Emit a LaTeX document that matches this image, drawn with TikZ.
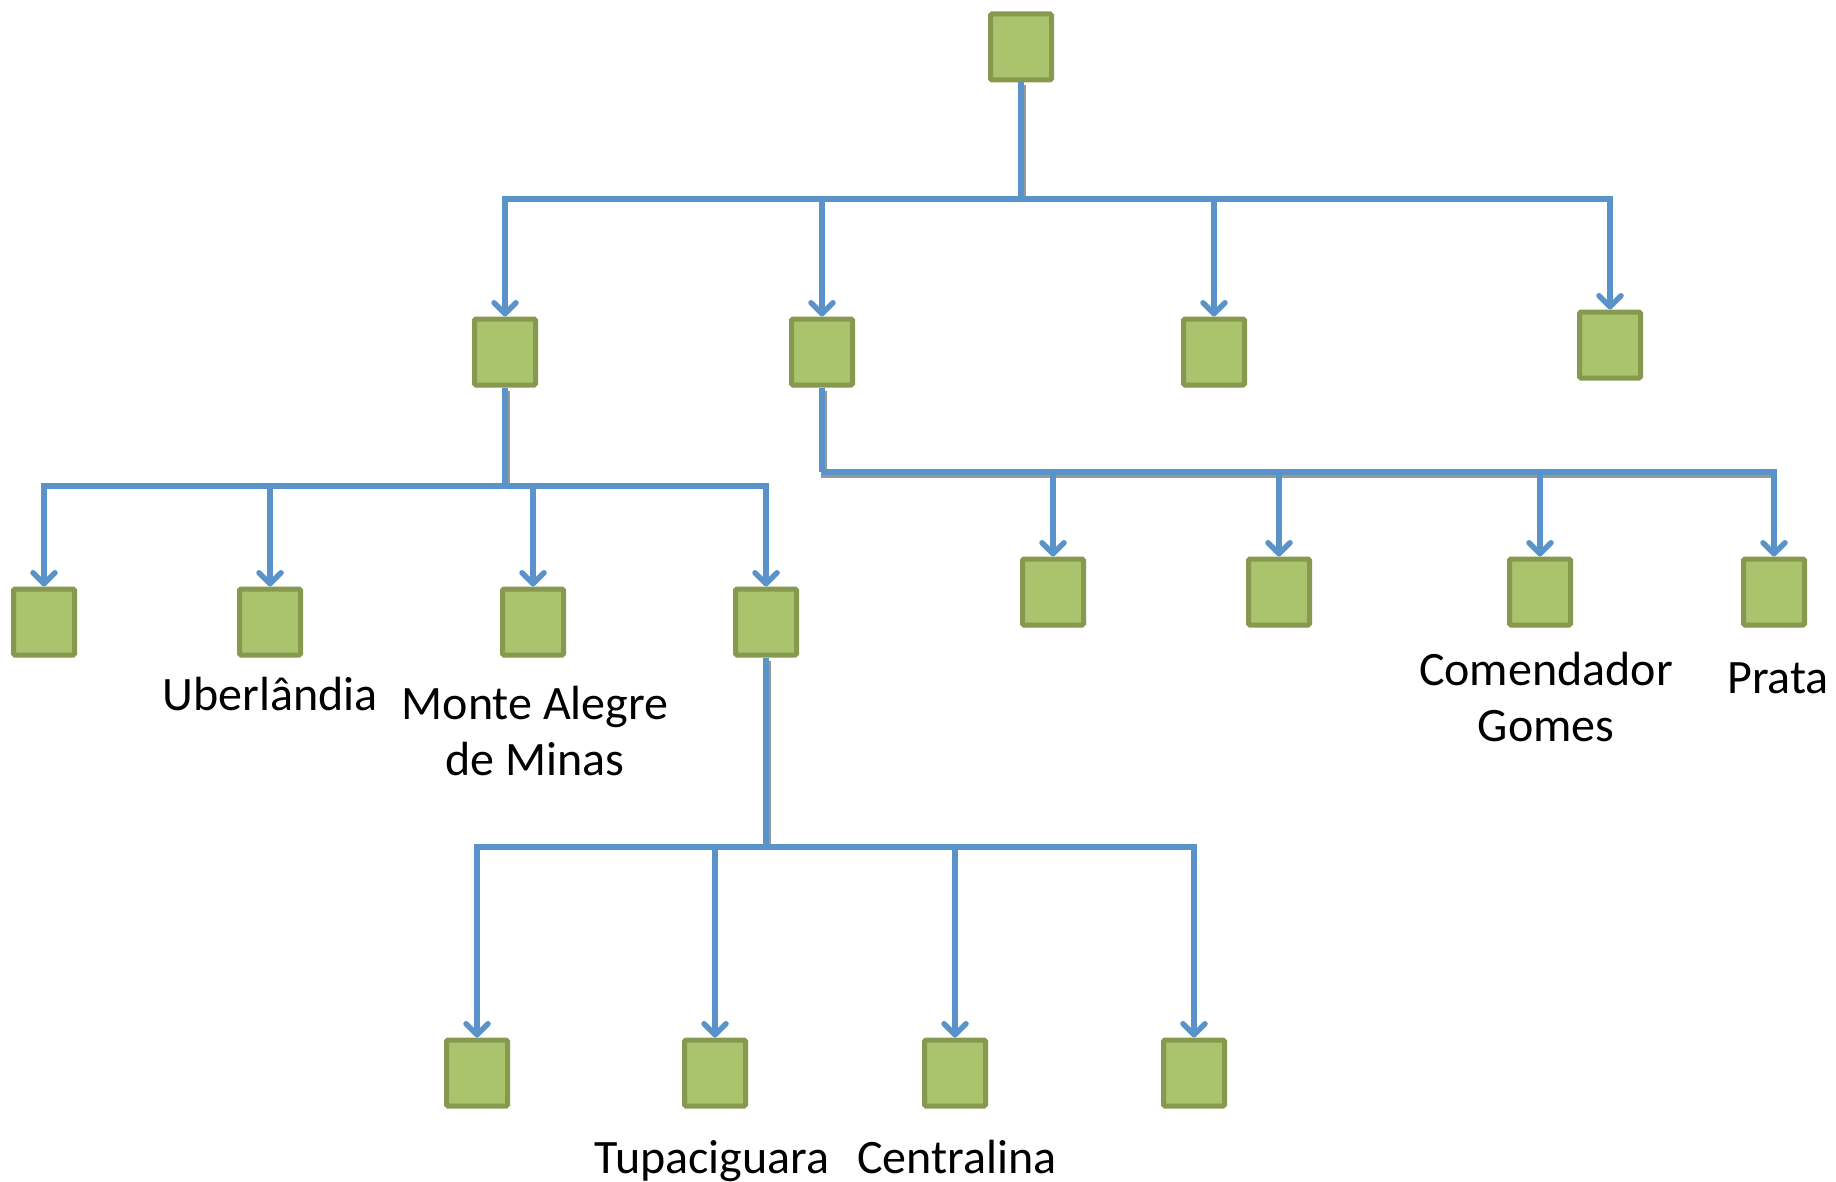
\documentclass[tikz,border=0pt]{standalone}
\usepackage{fontspec}
\setmainfont{Carlito}
\usetikzlibrary{arrows.meta}
\definecolor{boxfill}{HTML}{A9C46C}
\definecolor{boxline}{HTML}{86994F}
\definecolor{connc}{HTML}{5A93C9}
\begin{document}
\begin{tikzpicture}[x=1pt,y=-1pt,
  box/.style={draw=boxline, fill=boxfill, line width=5pt, minimum width=61pt, minimum height=66pt, rounded corners=1.5pt, inner sep=0pt},
  link/.style={draw=connc, line width=5.5pt, -{Straight Barb[length=11pt,width=22pt,line cap=round,line join=round]}},
  trunk/.style={draw=connc, line width=5.5pt},
  shade/.style={draw=black, opacity=0.4, line width=6pt, transform canvas={xshift=2pt,yshift=-3pt}},
  lbl/.style={font=\fontsize{48}{56}\selectfont, align=center, inner sep=0pt}]
\useasboundingbox (0,0) rectangle (1836,1182);
% nodes
\node[box] (root) at (1021,47) {};
\node[box] (a1) at (505,352) {};
\node[box] (a2) at (822,352) {};
\node[box] (a3) at (1214,352) {};
\node[box] (a4) at (1610,345) {};
\node[box] (l1) at (44,622) {};
\node[box] (l2) at (270,622) {};
\node[box] (l3) at (533,622) {};
\node[box] (l4) at (766,622) {};
\node[box] (r1) at (1053,592) {};
\node[box] (r2) at (1279,592) {};
\node[box] (r3) at (1540,592) {};
\node[box] (r4) at (1774,592) {};
\node[box] (t1) at (477,1073) {};
\node[box] (t2) at (715,1073) {};
\node[box] (t3) at (955,1073) {};
\node[box] (t4) at (1194,1073) {};
% bus points
\coordinate (b0) at (1021,199);
\coordinate (b1) at (505,486);
\coordinate (b2) at (822,472);
\coordinate (b3) at (766,847);
% shadows
\draw[shade] (root.south) -- (b0);
\draw[shade] (a1.south) -- (b1);
\draw[shade] (a2.south) -- (b2) -- (b2 -| r4.north);
\draw[shade] (l4.south) -- (b3);
% trunks
\draw[trunk] (root.south) -- (b0);
\draw[trunk] (a1.south) -- (b1);
\draw[trunk] (a2.south) -- (b2);
\draw[trunk] (l4.south) -- (b3);
% links
\foreach \c in {a1,a2,a3,a4} \draw[link] (b0) -| (\c.north);
\foreach \c in {l1,l2,l3,l4} \draw[link] (b1) -| (\c.north);
\foreach \c in {r1,r2,r3,r4} \draw[link] (b2) -| (\c.north);
\foreach \c in {t1,t2,t3,t4} \draw[link] (b3) -| (\c.north);
% labels
\node[lbl] (uber) at (270,694) {Uberlândia};
\node[lbl] (monte) at (535,731) {Monte Alegre\\de Minas};
\node[lbl] (comend) at (1546,697) {Comendador\\Gomes};
\node[lbl] (prata) at (1778,678) {Prata};
\node[lbl] (tupa) at (712,1161) {Tupaciguara};
\node[lbl] (centr) at (957,1157) {Centralina};
\end{tikzpicture}
\end{document}
